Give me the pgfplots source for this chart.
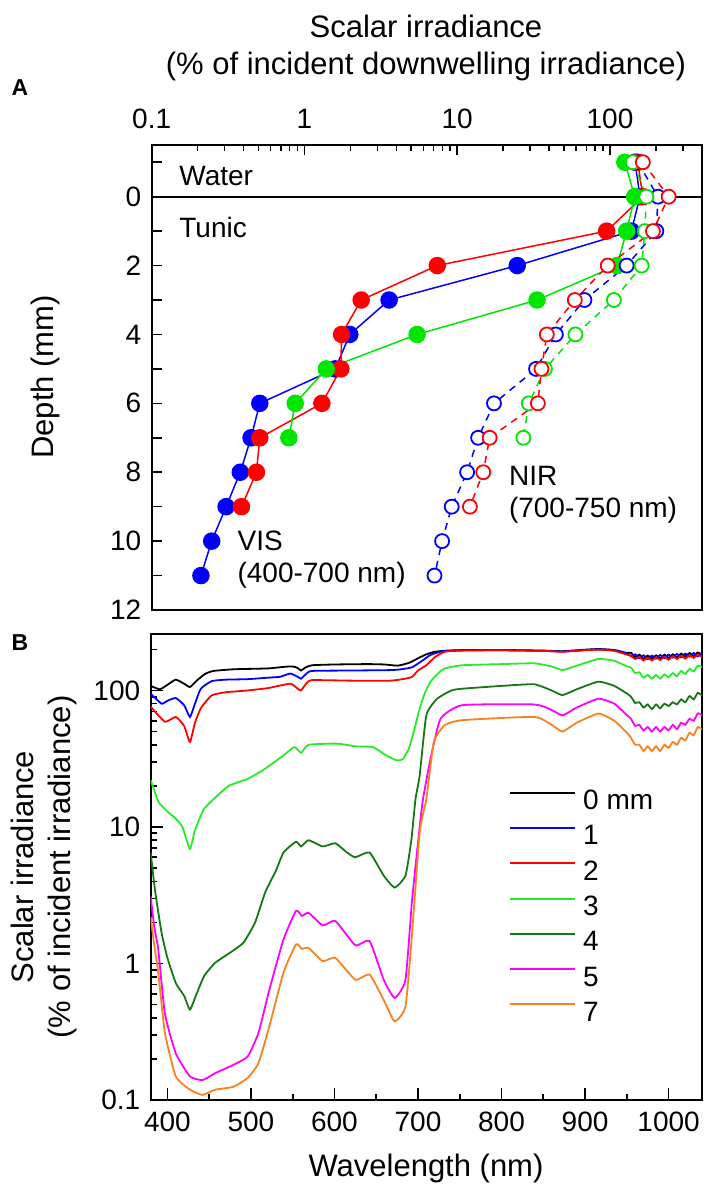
\documentclass[border=0pt]{standalone}
\usepackage{pgfplots}
\pgfplotsset{compat=1.18}
\usepackage{fontspec}
\setmainfont{Liberation Sans}
\definecolor{cblue}{RGB}{0,0,255}
\definecolor{cred}{RGB}{255,0,0}
\definecolor{cgreen}{RGB}{0,230,0}
\definecolor{clgreen}{RGB}{40,235,40}
\definecolor{cdgreen}{RGB}{20,120,20}
\definecolor{cmag}{RGB}{255,0,255}
\definecolor{corange}{RGB}{250,130,30}
\newcommand\tfont{\fontsize{28bp}{33bp}\selectfont}
\newcommand\lfont{\fontsize{31bp}{40bp}\selectfont}
\pgfplotsset{
  vis/.style={line width=1.5bp, mark=*, mark size=8bp, mark options={solid}},
  nir/.style={line width=1.5bp, dash pattern=on 7bp off 6bp, mark=*, mark size=7bp, mark options={solid, fill=white, line width=1.8bp}},
  spec/.style={line width=1.8bp, no marks, smooth, tension=0.3},
}
\begin{document}
\begin{tikzpicture}
\path (0,0) rectangle (708bp,-1192bp);
% titles
\node[font=\lfont] at (426bp,-26bp) {Scalar irradiance};
\node[font=\lfont] at (426bp,-66bp) {(\% of incident downwelling irradiance)};
\node[font=\fontsize{23bp}{26bp}\selectfont\bfseries] at (20bp,-88bp) {A};
\node[font=\fontsize{23bp}{26bp}\selectfont\bfseries] at (20bp,-643bp) {B};
\node[font=\lfont, rotate=90] at (45bp,-377bp) {Depth (mm)};
\node[font=\lfont, rotate=90] at (22bp,-867bp) {Scalar irradiance};
\node[font=\lfont, rotate=90] at (62bp,-867bp) {(\% of incident irradiance)};
\node[font=\lfont] at (426bp,-1168bp) {Wavelength (nm)};

\begin{axis}[
  at={(151.7bp,-145bp)}, anchor=north west,
  scale only axis, width=550.3bp, height=465bp,
  xmode=log, xmin=0.1, xmax=400,
  y dir=reverse, ymin=-1.5, ymax=12,
  xtick={0.1,1,10,100}, xticklabels={0.1,1,10,100},
  minor xtick={0.2,0.3,0.4,0.5,0.6,0.7,0.8,0.9,2,3,4,5,6,7,8,9,20,30,40,50,60,70,80,90,200,300},
  xtick pos=right, xticklabel pos=right,
  ytick={-1,0,...,12}, yticklabels={,0,,2,,4,,6,,8,,10,,12},
  ytick pos=left,
  tick align=inside,
  major tick length=10bp, minor tick length=6bp,
  axis line style={line width=2.2bp},
  every tick/.style={black, line width=1.6bp},
  tick label style={font=\tfont},
  xticklabel style={yshift=13bp},
  yticklabel style={xshift=-7bp},
  clip=false,
]
\addplot[black, line width=2bp, forget plot] coordinates {(0.1,0) (400,0)};
% VIS
\addplot[vis, cblue] coordinates {(146,-1) (157,0) (138,1) (24.7,2) (3.58,3) (1.98,4) (1.59,5) (0.51,6) (0.447,7) (0.38,8) (0.307,9) (0.247,10) (0.21,11)};
\addplot[vis, cred] coordinates {(152,-1) (164,0) (95,1) (7.4,2) (2.35,3) (1.75,4) (1.73,5) (1.30,6) (0.51,7) (0.485,8) (0.387,9)};
\addplot[vis, cgreen] coordinates {(125,-1) (145,0) (128.5,1) (111,2) (33.3,3) (5.46,4) (1.39,5) (0.87,6) (0.79,7)};
% NIR
\addplot[nir, cblue] coordinates {(152,-1) (206,0) (201,1) (128.5,2) (68,3) (44.2,4) (32.8,5) (17.4,6) (13.7,7) (11.6,8) (9.2,9) (7.96,10) (7.1,11)};
\addplot[nir, cgreen] coordinates {(141,-1) (173,0) (169,1) (161,2) (106,3) (59.4,4) (37.5,5) (29.4,6) (27.1,7)};
\addplot[nir, cred] coordinates {(164,-1) (242,0) (191,1) (96.6,2) (58.8,3) (38.6,4) (35.6,5) (33.7,6) (16.3,7) (14.8,8) (12.1,9)};
\node[anchor=west, font=\tfont] at (axis cs:0.144,-0.6) {Water};
\node[anchor=west, font=\tfont] at (axis cs:0.144,0.9) {Tunic};
\node[anchor=west, font=\tfont] at (axis cs:0.346,10) {VIS};
\node[anchor=west, font=\tfont] at (axis cs:0.346,11) {(400-700 nm)};
\node[anchor=west, font=\tfont] at (axis cs:20.7,8.1) {NIR};
\node[anchor=west, font=\tfont] at (axis cs:20.7,9.1) {(700-750 nm)};
\end{axis}

\begin{axis}[
  at={(150.7bp,-633.8bp)}, anchor=north west,
  scale only axis, width=551.3bp, height=466.2bp,
  xmin=380, xmax=1040, ymode=log, ymin=0.1, ymax=260,
  xtick={400,500,...,1000}, xticklabels={400,500,600,700,800,900,1000},
  minor xtick={450,550,...,950},
  ytick={0.1,1,10,100}, yticklabels={0.1,1,10,100},
  minor ytick={0.2,0.3,0.4,0.5,0.6,0.7,0.8,0.9,2,3,4,5,6,7,8,9,20,30,40,50,60,70,80,90,200},
  xtick pos=left, ytick pos=left,
  tick align=inside,
  major tick length=12bp, minor tick length=6bp,
  axis line style={line width=2.2bp},
  every tick/.style={black, line width=1.6bp},
  tick label style={font=\tfont},
  xticklabel style={yshift=-8bp},
  yticklabel style={xshift=-7bp},
  legend style={at={(0.65,0.665)}, anchor=north west, draw=none, fill=none, font=\tfont, inner sep=0pt, row sep=14.4bp, nodes={inner sep=0pt}},
  legend cell align=left,
  legend image code/.code={\draw[#1, line width=2bp] (0bp,8bp) -- (65bp,8bp);},
  /tikz/every odd column/.append style={column sep=7bp},
]
\addplot[spec, black] coordinates {(380,108) (391,102) (400,110) (410,120) (420,112) (427,106) (435,118) (445,132) (455,139) (480,143) (520,145) (540,149) (550,150) (556,146) (560,140) (565,147) (573,153) (600,155) (640,156) (660,155) (676,152) (690,160) (700,172) (710,184) (720,192) (735,196) (760,198) (800,198) (850,196) (873,194) (900,199) (916,201) (935,198) (950,188) (955,189) (960,175) (965,183) (970,171) (975,180) (980,171) (985,181) (990,172) (995,183) (1000,173) (1005,184) (1010,175) (1015,186) (1020,177) (1025,188) (1030,179) (1035,190) (1040,181)};
\addlegendentry{0 mm}
\addplot[spec, cblue] coordinates {(380,95) (393,80) (400,84) (410,88) (420,78) (427,64) (433,80) (440,103) (453,117) (470,120) (496,121) (520,124) (535,126) (547,133) (556,126) (560,122) (566,132) (573,139) (620,140) (667,141) (680,143) (693,148) (705,165) (715,182) (730,194) (760,197) (800,197) (850,195) (873,193) (900,198) (916,200) (935,197) (950,187) (955,178) (960,184) (965,172) (970,181) (975,170) (980,180) (985,171) (990,182) (995,172) (1000,183) (1005,174) (1010,185) (1015,175) (1020,186) (1025,177) (1030,188) (1035,178) (1040,189)};
\addlegendentry{1}
\addplot[spec, cred] coordinates {(380,76) (397,59) (410,64) (420,55) (427,42) (433,58) (440,74) (453,92) (470,97) (496,100) (520,104) (547,112) (556,103) (560,100) (566,112) (573,119) (620,118) (667,118) (685,122) (693,126) (700,140) (710,153) (720,175) (732,192) (753,196) (800,197) (850,195) (873,192) (900,197) (916,199) (935,195) (950,183) (955,179) (960,170) (965,176) (970,166) (975,174) (980,166) (985,175) (990,167) (995,177) (1000,168) (1005,178) (1010,170) (1015,180) (1020,171) (1025,181) (1030,173) (1035,183) (1040,176)};
\addlegendentry{2}
\addplot[spec, clgreen] coordinates {(380,22) (385,18) (390,15) (400,13) (410,11.5) (418,10) (427,6.9) (433,9.5) (444,13.6) (460,17) (474,20.1) (496,22.5) (517,26.7) (539,33.5) (552,38.5) (560,35) (569,40) (603,40.8) (625,39) (646,38.5) (660,34) (674,30.8) (682,31.5) (689,37.5) (695,50) (702,73.8) (708,95) (715,116) (725,135) (732,145) (753,153) (800,156) (839,158) (860,150) (873,141) (890,152) (916,170) (935,165) (950,150) (955,147) (960,134) (965,136) (970,124) (975,130) (980,122) (985,130) (990,122) (995,131) (1000,125) (1005,134) (1010,127) (1015,139) (1020,132) (1025,144) (1030,138) (1035,152) (1040,148)};
\addlegendentry{3}
\addplot[spec, cdgreen] coordinates {(380,6.5) (385,3.5) (393,1.68) (400,1.1) (410,0.72) (420,0.58) (427,0.46) (435,0.6) (444,0.81) (457,1.01) (475,1.2) (491,1.42) (505,2.0) (517,3.31) (530,4.8) (539,6.5) (554,7.8) (560,7.2) (569,8.0) (586,7.2) (601,7.6) (615,6.5) (625,6.0) (642,6.5) (659,4.4) (672,3.6) (685,4.4) (692,8) (697,16) (702,23.8) (710,66) (723,87) (740,100) (753,103) (800,108) (839,111) (860,100) (873,92.5) (890,102) (916,116) (935,108) (950,95) (955,90) (960,81) (965,82) (970,75) (975,79) (980,73) (985,79) (990,74) (995,80) (1000,77) (1005,82) (1010,79) (1015,86) (1020,82) (1025,91) (1030,86) (1035,96) (1040,92)};
\addlegendentry{4}
\addplot[spec, cmag] coordinates {(380,3.1) (384,1.9) (389,1.27) (397,0.43) (410,0.22) (427,0.149) (442,0.140) (457,0.157) (479,0.181) (496,0.208) (509,0.31) (522,0.64) (539,1.5) (554,2.43) (561,2.23) (569,2.35) (586,1.90) (601,2.05) (625,1.36) (642,1.46) (659,0.76) (672,0.56) (685,0.76) (693,2.96) (702,10) (706,16) (715,31.6) (727,62) (753,78) (839,79) (860,72) (873,65.7) (890,75) (916,87) (935,80) (950,66) (955,62) (960,55) (965,56) (970,51) (975,54) (980,50) (985,54) (990,50) (995,54) (1000,51) (1005,56) (1010,52) (1015,58) (1020,56) (1025,62) (1030,60) (1035,68) (1040,66)};
\addlegendentry{5}
\addplot[spec, corange] coordinates {(380,2.2) (384,1.4) (389,0.86) (397,0.31) (410,0.149) (427,0.119) (442,0.109) (457,0.119) (479,0.125) (496,0.145) (509,0.186) (522,0.346) (539,0.86) (554,1.38) (561,1.28) (569,1.30) (586,1.04) (601,1.10) (625,0.76) (642,0.83) (659,0.54) (672,0.377) (685,0.485) (693,1.68) (702,9.1) (710,16) (719,42) (732,55.6) (753,60.6) (839,64) (860,56) (873,50) (890,58) (916,67.7) (935,60) (950,49) (955,45) (960,40) (965,40) (970,36) (975,39) (980,36) (985,39) (990,36) (995,40) (1000,38) (1005,42) (1010,40) (1015,45) (1020,43) (1025,49) (1030,47) (1035,54) (1040,52)};
\addlegendentry{7}
\end{axis}
\end{tikzpicture}
\end{document}
